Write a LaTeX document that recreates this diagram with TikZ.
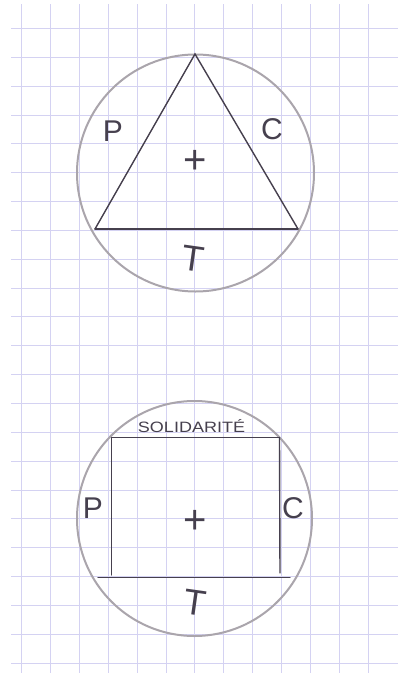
\documentclass[tikz,border=0pt]{standalone}
\usepackage{fontspec}
\setmainfont{Liberation Sans}
\usepackage{tikz}
\usetikzlibrary{positioning,calc}
\usepackage{xcolor}

\definecolor{gridline}{RGB}{212,210,242}
\definecolor{ringgray}{RGB}{170,165,172}
\definecolor{pencil}{RGB}{70,64,78}

\tikzset{
  ring/.style={draw=ringgray, line width=2pt},
  side/.style={draw=pencil, line width=1.4pt, line cap=round},
  letter/.style={text=pencil, font=\fontsize{30}{34}\selectfont, inner sep=0pt},
  cross/.style={text=pencil, font=\fontsize{40}{42}\selectfont, inner sep=0pt},
}

\begin{document}
\begin{tikzpicture}[x=1pt, y=-1pt]
  \useasboundingbox (0,0) rectangle (398,675);
  \fill[white] (0,0) rectangle (398,675);
  % Squared paper
  \foreach \k in {0,...,12}
    \draw[gridline, line width=0.7pt] (21.7+\k*28.85,4) -- (21.7+\k*28.85,673);
  \foreach \k in {0,...,22}
    \draw[gridline, line width=0.7pt] (11,28.3+\k*28.85) -- (398,28.3+\k*28.85);

  % Upper circle with triangle
  \coordinate (o1) at (195.5,173);
  \draw[ring] (o1) circle (118.5);
  \coordinate (apex) at (195,54);
  \coordinate (bl) at (95,229);
  \coordinate (br) at (298,229);
  \draw[side] (bl) -- (apex) -- (br);
  \draw[side] (bl) -- (br);
  \node[letter] (p1) at (113,131) {P};
  \node[letter] (c1) at (272,129) {C};
  \node[cross] (x1) at (195,162) {+};
  \node[letter, font=\fontsize{36}{38}\selectfont, rotate=-8] (t1) at (193,259) {T};

  % Lower circle with rectangle
  \coordinate (o2) at (194.5,518.5);
  \draw[ring] (o2) circle (117.5);
  \coordinate (tl) at (111.5,437.5);
  \coordinate (tr) at (279.5,437.5);
  \coordinate (ll) at (111.5,575);
  \coordinate (lr) at (280,573);
  \coordinate (bs) at (98,577.5);
  \coordinate (be) at (290,577.5);
  \draw[side] (tl) -- (tr);
  \draw[side] (tl) -- (ll);
  \draw[side] (tr) -- (lr);
  \draw[side] (bs) -- (be);
  \node[letter, font=\fontsize{15}{17}\selectfont, xscale=1.2] (sol) at (191.5,426) {SOLIDARITÉ};
  \node[letter] (p2) at (93,508) {P};
  \node[letter] (c2) at (293,508) {C};
  \node[cross] (x2) at (195,522) {+};
  \node[letter, font=\fontsize{36}{38}\selectfont, rotate=-8] (t2) at (195,603) {T};
\end{tikzpicture}
\end{document}
